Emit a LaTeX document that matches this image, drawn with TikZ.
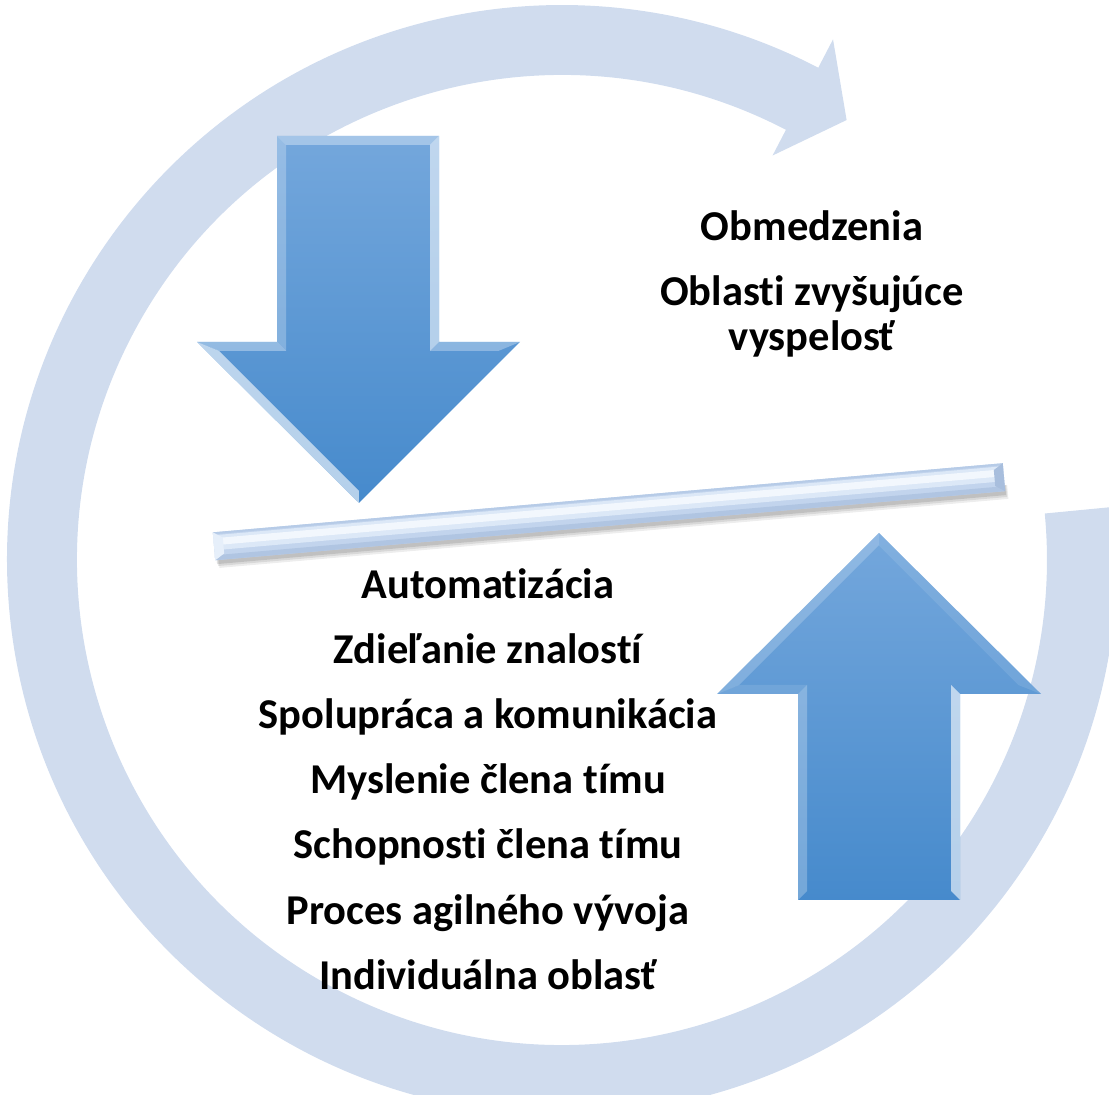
\documentclass[tikz,border=0pt]{standalone}
\usepackage{fontspec}
\setmainfont{Carlito}[Ligatures=NoCommon]
\definecolor{ringblue}{RGB}{208,220,238}
\definecolor{arrtop}{RGB}{116,167,220}
\definecolor{arrbot}{RGB}{70,138,204}
\definecolor{barmid}{RGB}{194,212,237}
\definecolor{barlow}{RGB}{176,197,226}
\definecolor{barlight}{RGB}{220,232,247}
\definecolor{barshine}{RGB}{242,247,253}
\definecolor{baredge}{RGB}{182,203,231}
\definecolor{barcapl}{RGB}{230,239,250}
\definecolor{barcapr}{RGB}{168,190,221}
\begin{document}
\begin{tikzpicture}[x=1pt,y=1pt,
  ringcol/.style={fill=ringblue},
  bluearrow/.style={top color=arrtop, bottom color=arrbot},
  hl/.style={fill=white,fill opacity=#1},
  txt/.style={font=\fontsize{42.5}{50}\selectfont\bfseries, anchor=base, inner sep=0pt}]
\useasboundingbox (0,0) rectangle (1109,1095);
\clip (0,0) rectangle (1109,1095);

% circular arrow in the background
\begin{scope}[shift={(562,535)}]
  \fill[ringcol] (5.5:485) -- (5.5:555)
    arc[start angle=5.5, end angle=-297.5, radius=555]
    -- (-297.5:587) -- (-302.9:524) -- (-297.5:456) -- (-297.5:485)
    arc[start angle=-297.5, end angle=5.5, radius=485] -- cycle;
\end{scope}

% tilted bar
\begin{scope}[shift={(609,583.25)}, rotate=5]
  \fill[black, opacity=.07] (-393,-22) rectangle (399,-8);
  \fill[black, opacity=.09] (-394,-20) rectangle (398,-8);
  \fill[black, opacity=.11] (-395,-18) rectangle (397,-8);
  \fill[barmid] (-396.5,-14) rectangle (396.5,14);
  \fill[barlow] (-396.5,-14) rectangle (396.5,-9);
  \fill[barlight] (-396.5,-4) rectangle (396.5,11);
  \fill[barshine] (-396.5,1) rectangle (396.5,8);
  \fill[baredge] (-396.5,12) rectangle (396.5,14);
  \fill[barcapl] (-396.5,-14) -- (-396.5,14) -- (-387,8) -- (-387,-8) -- cycle;
  \fill[barcapr] (396.5,-14) -- (396.5,14) -- (387,8) -- (387,-8) -- cycle;
\end{scope}

% downward arrow
\shade[bluearrow] (277,959) -- (439,959) -- (439,753) -- (520,753) -- (359,592)
  -- (197,753) -- (277,753) -- cycle;
\fill[hl=.35] (277,959) -- (439,959) -- (430,950) -- (286,950) -- cycle;
\fill[hl=.55] (439,959) -- (439,753) -- (430,744) -- (430,950) -- cycle;
\fill[hl=.30] (439,753) -- (520,753) -- (498.3,744) -- (430,744) -- cycle;
\fill[hl=.60] (359,592) -- (197,753) -- (219.2,744) -- (358.75,604.45) -- cycle;
\fill[hl=.35] (197,753) -- (277,753) -- (286,744) -- (219.2,744) -- cycle;
\fill[hl=.25] (277,753) -- (277,959) -- (286,950) -- (286,744) -- cycle;

% upward arrow
\shade[bluearrow] (879,562) -- (1041,401) -- (960,401) -- (960,195) -- (798,195)
  -- (798,401) -- (717,401) -- cycle;
\fill[hl=.10] (879,562) -- (1041,401) -- (1018.3,410) -- (878.75,549.55) -- cycle;
\fill[hl=.60] (960,401) -- (960,195) -- (951,204) -- (951,410) -- cycle;
\fill[hl=.25] (798,195) -- (798,401) -- (807,410) -- (807,204) -- cycle;
\fill[hl=.10] (798,401) -- (717,401) -- (739.2,410) -- (807,410) -- cycle;
\fill[hl=.20] (717,401) -- (879,562) -- (878.75,549.55) -- (739.2,410) -- cycle;

% labels above the bar
\node[txt] (obm) at (812,854) {Obmedzenia};
\node[txt] (obl1) at (812,789) {Oblasti zvyšujúce};
\node[txt] (obl2) at (812,744) {vyspelosť};

% labels below the bar
\node[txt] (l1) at (488,496) {Automatizácia};
\node[txt] (l2) at (488,431) {Zdieľanie znalostí};
\node[txt] (l3) at (488,366) {Spolupráca a komunikácia};
\node[txt] (l4) at (488,301) {Myslenie člena tímu};
\node[txt] (l5) at (488,236) {Schopnosti člena tímu};
\node[txt] (l6) at (488,170) {Proces agilného vývoja};
\node[txt] (l7) at (488,105) {Individuálna oblasť};
\end{tikzpicture}
\end{document}
